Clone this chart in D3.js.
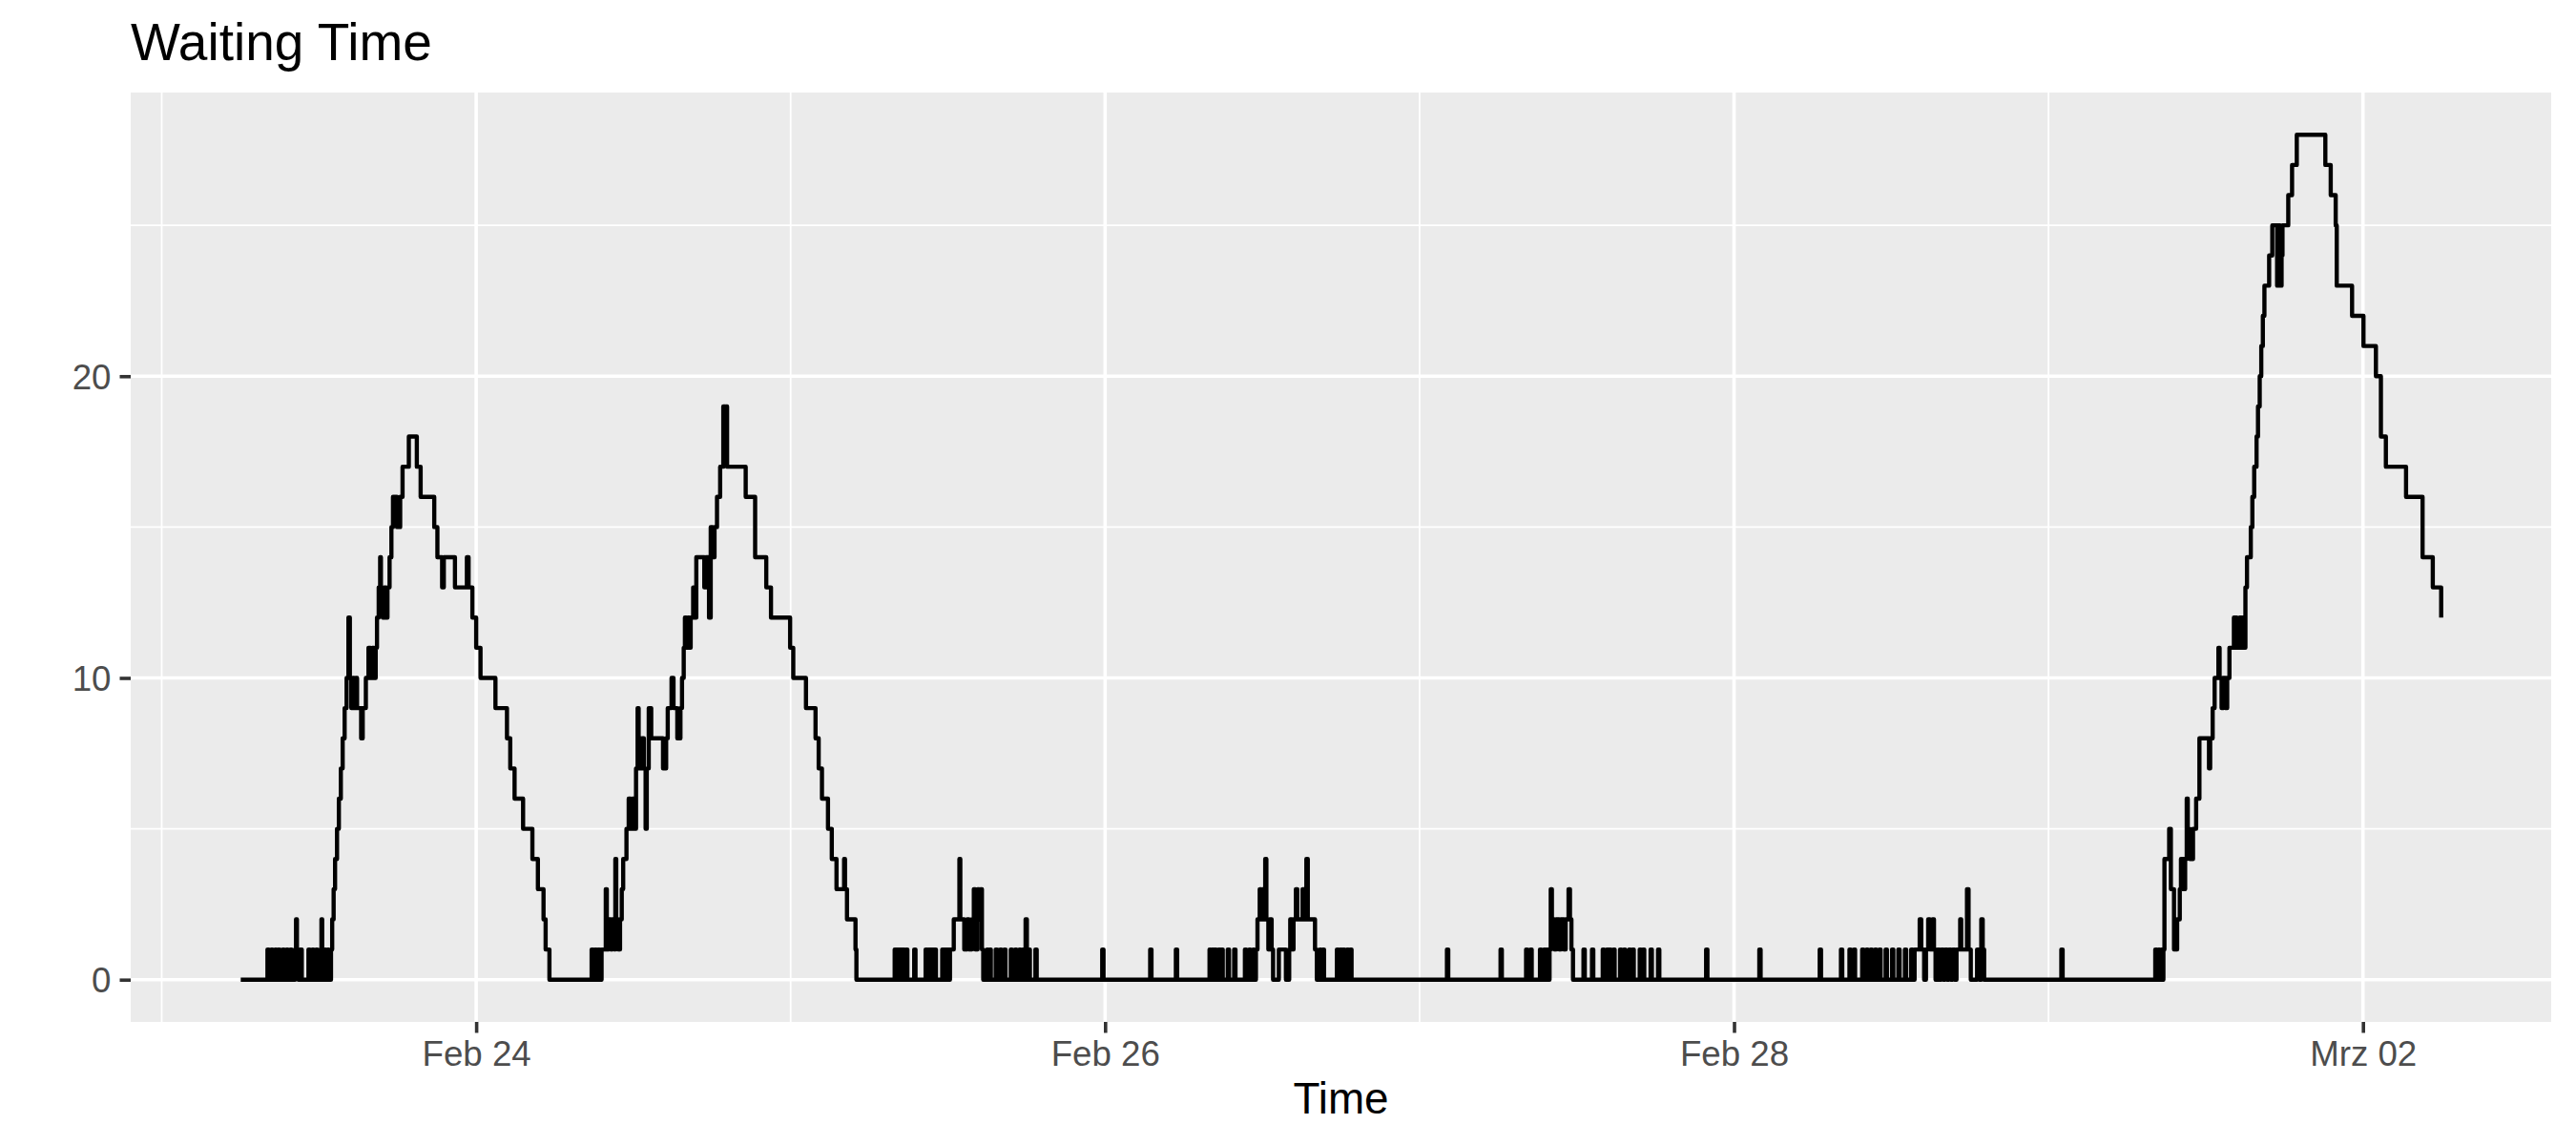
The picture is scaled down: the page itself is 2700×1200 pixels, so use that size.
<!DOCTYPE html>
<html>
<head>
<meta charset="utf-8">
<title>Waiting Time</title>
<script src="https://cdn.jsdelivr.net/npm/d3@7"></script>
<style>
  html, body { margin: 0; padding: 0; background: #ffffff; }
  svg text { font-family: "Liberation Sans", Arial, sans-serif; }
</style>
</head>
<body>
<svg id="drawing_region"></svg>
<script>
// hours after Feb 23 00:00, queue length (step changes)
const waitSteps = [
  [6.03,0],
  [8.07,1],[8.18,0],[8.36,1],[8.47,0],[8.65,1],[8.76,0],[8.87,1],[9.01,0],
  [9.23,1],[9.34,0],[9.52,1],[9.63,0],[9.81,1],[9.92,0],[10.18,1],[10.25,2],[10.32,1],[10.43,0],[10.54,1],[10.69,0],
  [11.20,1],[11.31,0],[11.49,1],[11.60,0],[11.78,1],[11.89,0],[12.14,1],[12.19,2],[12.25,1],[12.32,0],[12.43,1],[12.54,0],[12.65,1],[12.76,0],
  [12.92,1],[13.01,2],[13.12,3],[13.23,4],[13.38,5],[13.52,6],[13.67,7],[13.81,8],[13.96,9],[14.11,10],[14.25,12],[14.36,10],
  [14.47,9],[14.58,10],[14.69,9],[14.80,10],[14.91,9],[15.22,8],[15.34,9],[15.58,10],[15.78,11],[15.93,10],[16.07,11],[16.22,10],
  [16.33,11],[16.43,12],[16.56,13],[16.67,14],[16.73,13],[16.87,12],[16.98,13],[17.09,12],[17.23,13],[17.39,14],[17.53,15],[17.65,16],
  [17.96,15],[18.20,16],[18.38,17],[18.86,18],[19.47,17],[19.76,16],[20.80,15],[21.04,14],[21.40,13],[21.53,14],[22.38,13],[23.29,14],
  [23.42,13],[23.71,12],[24.00,11],[24.33,10],[25.47,9],[26.35,8],[26.60,7],[26.93,6],[27.58,5],[28.29,4],[28.71,3],[29.14,2],[29.30,1],[29.59,0],
  [32.81,1],[32.91,0],[33.06,1],[33.17,0],[33.31,1],[33.42,0],[33.57,1],
  [33.89,3],[33.97,1],[34.11,2],[34.26,1],[34.40,2],[34.55,1],[34.62,4],[34.69,2],[34.84,1],[34.98,2],[35.11,3],[35.22,4],[35.47,5],
  [35.64,6],[35.78,5],[35.93,6],[36.08,5],[36.20,7],[36.32,9],[36.40,8],[36.51,7],[36.66,8],[36.80,7],[36.93,5],[37.02,7],[37.17,9],
  [37.36,8],[38.26,7],[38.50,8],[38.62,9],[38.91,10],[39.06,9],[39.35,8],[39.59,9],[39.71,10],[39.84,11],[39.93,12],[40.04,11],
  [40.15,12],[40.26,11],[40.37,12],[40.56,13],[40.66,12],[40.80,14],[41.41,13],[41.53,14],[41.77,12],[41.90,15],[42.04,14],[42.19,15],
  [42.38,16],[42.62,17],[42.86,19],[42.99,18],[43.06,19],[43.15,17],[44.57,16],[45.29,14],[46.14,13],[46.50,12],[47.96,11],[48.20,10],
  [49.17,9],[49.90,8],[50.14,7],[50.39,6],[50.85,5],[51.14,4],[51.50,3],[52.08,4],[52.15,3],[52.30,2],[52.95,1],[53.02,0],
  [55.94,1],[56.04,0],[56.16,1],[56.26,0],[56.38,1],[56.48,0],[56.60,1],[56.70,0],[56.81,1],[56.91,0],[57.43,1],[57.53,0],
  [58.30,1],[58.40,0],[58.48,1],[58.58,0],[58.70,1],[58.78,0],[58.85,1],[58.93,0],[58.99,1],[59.09,0],
  [59.57,1],[59.67,0],[59.79,1],[59.89,0],[60.01,1],[60.11,0],
  [60.16,1],[60.45,2],[60.88,4],[60.95,2],[61.25,1],[61.47,2],[61.61,1],[61.83,2],[61.98,3],[62.09,1],[62.27,3],[62.38,2],[62.49,3],[62.60,1],[62.70,0],
  [62.99,1],[63.09,0],[63.18,1],[63.28,0],[63.65,1],[63.75,0],[63.99,1],[64.09,0],[64.30,1],[64.40,0],[64.80,1],[64.90,0],
  [65.13,1],[65.23,0],[65.45,1],[65.55,0],[65.71,1],[65.81,0],[65.93,2],[66.03,0],[66.16,1],[66.26,0],[66.68,1],[66.78,0],
  [71.78,1],[71.88,0],[75.44,1],[75.54,0],[77.40,1],[77.50,0],
  [79.97,1],[80.07,0],[80.16,1],[80.26,0],[80.38,1],[80.48,0],[80.65,1],[80.75,0],[80.88,1],[80.98,0],
  [81.36,1],[81.46,0],[81.85,1],[81.95,0],[82.67,1],[82.77,0],[82.99,1],[83.09,0],[83.29,1],[83.39,0],
  [83.51,1],[83.63,2],[83.80,3],[83.91,2],[84.01,3],[84.12,2],[84.22,4],[84.31,2],[84.46,1],[84.60,2],[84.71,1],[84.82,0],
  [85.26,1],[85.80,0],[86.05,1],[86.13,2],[86.27,1],[86.38,2],[86.56,3],[86.67,2],[87.07,3],[87.18,2],[87.36,4],[87.47,2],
  [88.02,1],[88.16,0],[88.39,1],[88.49,0],[88.60,1],[88.71,0],
  [89.69,1],[89.79,0],[89.94,1],[90.04,0],[90.17,1],[90.27,0],[90.46,1],[90.56,0],[90.71,1],[90.81,0],
  [98.09,1],[98.19,0],[102.18,1],[102.28,0],
  [104.13,1],[104.23,0],[104.46,1],[104.56,0],[105.19,1],[105.29,0],[105.48,1],[105.58,0],[105.71,1],[105.81,0],
  [105.92,1],[106.01,3],[106.10,2],[106.28,1],[106.43,2],[106.65,1],[106.79,2],[107.01,1],[107.15,2],[107.37,3],[107.48,2],[107.59,1],[107.71,0],
  [108.51,1],[108.61,0],[109.16,1],[109.26,0],[109.98,1],[110.08,0],[110.28,1],[110.38,0],[110.50,1],[110.60,0],
  [110.79,1],[110.89,0],[111.30,1],[111.40,0],[111.59,1],[111.69,0],[111.99,1],[112.09,0],[112.25,1],[112.35,0],
  [112.80,1],[112.90,0],[113.05,1],[113.15,0],[113.63,1],[113.73,0],[114.20,1],[114.30,0],
  [117.87,1],[117.97,0],[121.93,1],[122.03,0],[126.54,1],[126.64,0],
  [128.16,1],[128.26,0],[128.81,1],[128.91,0],[129.14,1],[129.24,0],[129.78,1],[129.88,0],[130.11,1],[130.21,0],
  [130.43,1],[130.53,0],[130.76,1],[130.86,0],[131.09,1],[131.19,0],[131.57,1],[131.67,0],[132.06,1],[132.16,0],
  [132.54,1],[132.64,0],[133.04,1],[133.14,0],[133.52,1],[133.62,0],
  [133.78,1],[134.17,2],[134.29,1],[134.51,0],[134.65,1],[134.82,2],[134.95,1],[135.15,2],[135.26,1],[135.38,0],
  [135.53,1],[135.67,0],[135.82,1],[135.96,0],[136.11,1],[136.25,0],[136.40,1],[136.54,0],[136.69,1],[136.83,0],
  [136.98,1],[137.26,2],[137.34,1],[137.78,3],[137.90,1],[138.07,0],[138.55,1],[138.72,0],[138.87,2],[138.98,1],[139.09,0],
  [144.98,1],[145.08,0],
  [152.15,1],[152.26,0],[152.37,1],[152.48,0],[152.59,1],[152.70,0],[152.77,1],[152.85,4],[153.21,5],[153.34,3],
  [153.58,1],[153.82,2],[154.02,3],[154.11,4],[154.30,3],[154.43,4],[154.55,6],[154.63,5],[154.79,4],[155.03,5],
  [155.27,6],[155.52,8],[156.25,7],[156.34,8],[156.53,9],[156.68,10],[156.97,11],[157.06,10],[157.21,9],[157.35,10],
  [157.50,9],[157.64,10],[157.81,11],[158.15,12],[158.37,11],[158.59,12],[158.81,11],[159.03,13],[159.15,14],[159.44,15],
  [159.56,16],[159.70,17],[159.88,18],[159.99,19],[160.12,20],[160.24,21],[160.36,22],[160.48,23],[160.84,24],[161.08,25],
  [161.45,23],[161.57,25],[161.68,23],[161.79,24],[161.86,25],[162.30,26],[162.59,27],[162.95,28],[165.13,27],[165.54,26],
  [165.92,25],[166.00,23],[167.17,22],[168.04,21],[168.99,20],[169.37,18],[169.75,17],[171.29,16],[172.55,14],[173.33,13],
  [173.97,12]
];

// axis breaks: days after Feb 23
const majorDays = [1, 3, 5, 7];
const minorDays = [0, 2, 4, 6];
const tickLabels = ["Feb 24", "Feb 26", "Feb 28", "Mrz 02"];
const yMajor = [0, 10, 20];
const yMinor = [5, 15, 25];

const chartTitle = "Waiting Time";
const xTitle = "Time";

class StepChart {

  constructor( config, data ) {
    this.config = {
      parent: config.parent,
      width: config.width || 2700,
      height: config.height || 1200,
      margin: config.margin,
    }
    this.data = data;
    this.init();
  }

  init() {
    let self = this;
    const m = self.config.margin;

    self.svg = d3.select( self.config.parent )
      .attr('width', self.config.width)
      .attr('height', self.config.height);

    self.svg.append('rect')
      .attr('width', self.config.width)
      .attr('height', self.config.height)
      .attr('fill', '#ffffff');

    self.inner_width = self.config.width - m.left - m.right;
    self.inner_height = self.config.height - m.top - m.bottom;

    self.chart = self.svg.append('g')
      .attr('transform', `translate(${m.left}, ${m.top})`);

    self.base = Date.UTC(2021, 1, 23);
    self.toDate = h => new Date(self.base + h * 3600 * 1000);

    self.xscale = d3.scaleUtc().range([0, self.inner_width]);
    self.yscale = d3.scaleLinear().range([self.inner_height, 0]);
  }

  update() {
    let self = this;

    // ggplot style 5% expansion on both axes
    const xext = d3.extent(self.data, d => d[0]);
    const xpad = (xext[1] - xext[0]) * 0.05;
    self.xscale.domain([self.toDate(xext[0] - xpad), self.toDate(xext[1] + xpad)]);

    const yext = d3.extent(self.data, d => d[1]);
    const ypad = (yext[1] - yext[0]) * 0.05;
    self.yscale.domain([yext[0] - ypad, yext[1] + ypad]);

    self.render();
  }

  render() {
    let self = this;
    const W = self.inner_width, H = self.inner_height;
    const dayDate = d => self.toDate(d * 24);

    self.chart.append('rect')
      .attr('width', W)
      .attr('height', H)
      .attr('fill', '#ebebeb');

    // minor grid
    self.chart.selectAll('.xminor')
      .data(minorDays)
      .join('line')
      .attr('x1', d => self.xscale(dayDate(d)))
      .attr('x2', d => self.xscale(dayDate(d)))
      .attr('y1', 0).attr('y2', H)
      .attr('stroke', '#ffffff').attr('stroke-width', 1.8);

    self.chart.selectAll('.yminor')
      .data(yMinor)
      .join('line')
      .attr('x1', 0).attr('x2', W)
      .attr('y1', d => self.yscale(d))
      .attr('y2', d => self.yscale(d))
      .attr('stroke', '#ffffff').attr('stroke-width', 1.8);

    // major grid
    self.chart.selectAll('.xmajor')
      .data(majorDays)
      .join('line')
      .attr('x1', d => self.xscale(dayDate(d)))
      .attr('x2', d => self.xscale(dayDate(d)))
      .attr('y1', 0).attr('y2', H)
      .attr('stroke', '#ffffff').attr('stroke-width', 3.6);

    self.chart.selectAll('.ymajor')
      .data(yMajor)
      .join('line')
      .attr('x1', 0).attr('x2', W)
      .attr('y1', d => self.yscale(d))
      .attr('y2', d => self.yscale(d))
      .attr('stroke', '#ffffff').attr('stroke-width', 3.6);

    // step line
    const line = d3.line()
      .curve(d3.curveStepAfter)
      .x(d => self.xscale(self.toDate(d[0])))
      .y(d => self.yscale(d[1]));

    self.chart.append('path')
      .datum(self.data)
      .attr('d', line)
      .attr('fill', 'none')
      .attr('stroke', '#000000')
      .attr('stroke-width', 4.4)
      .attr('stroke-linejoin', 'round');

    // axes
    const xaxis = d3.axisBottom(self.xscale)
      .tickValues(majorDays.map(dayDate))
      .tickFormat((d, i) => tickLabels[i])
      .tickSize(11.5)
      .tickPadding(8);

    const xg = self.chart.append('g')
      .attr('transform', `translate(0, ${H})`)
      .call(xaxis);

    const yaxis = d3.axisLeft(self.yscale)
      .tickValues(yMajor)
      .tickSize(11.5)
      .tickPadding(9);

    const yg = self.chart.append('g')
      .call(yaxis);

    [xg, yg].forEach(g => {
      g.select('.domain').remove();
      g.selectAll('.tick line')
        .attr('stroke', '#333333')
        .attr('stroke-width', 3.6);
      g.selectAll('.tick text')
        .attr('fill', '#4d4d4d')
        .attr('font-size', '36.7px')
        .attr('font-family', '"Liberation Sans", Arial, sans-serif');
    });
    yg.selectAll('.tick text').attr('dy', '0.36em');

    // titles
    self.svg.append('text')
      .attr('x', self.config.margin.left)
      .attr('y', 63)
      .attr('font-size', '55px')
      .attr('fill', '#000000')
      .text(chartTitle);

    self.svg.append('text')
      .attr('x', self.config.margin.left + W / 2)
      .attr('y', 1167)
      .attr('text-anchor', 'middle')
      .attr('font-size', '45.8px')
      .attr('fill', '#000000')
      .text(xTitle);
  }
}

const config = {
  parent: '#drawing_region',
  width: 2700,
  height: 1200,
  margin: { top: 97, right: 26, bottom: 129, left: 137 },
};

const step_chart = new StepChart( config, waitSteps );
step_chart.update();
</script>
</body>
</html>
